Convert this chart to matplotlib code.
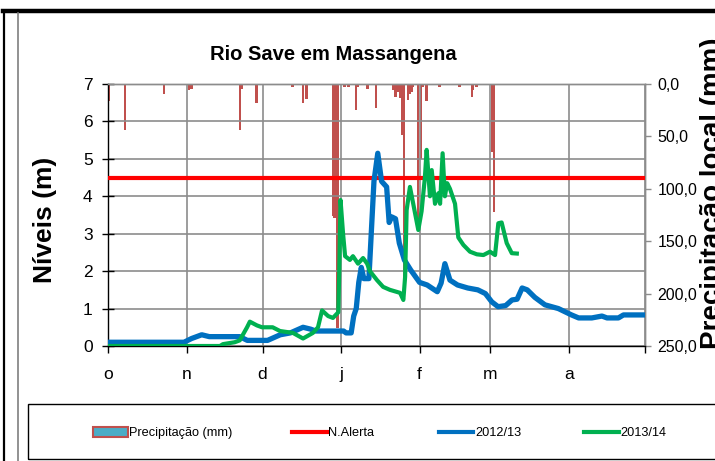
import matplotlib
matplotlib.use("Agg")
import matplotlib.pyplot as plt
from matplotlib.patches import Patch, Rectangle
from matplotlib.lines import Line2D
from matplotlib.ticker import FuncFormatter

# ---------------- data ----------------
month_starts = [0, 31, 61, 92, 123, 151, 182, 212]
month_labels = ["o", "n", "d", "j", "f", "m", "a", ""]

alert_level = 4.5

blue_days = [0, 30, 33, 37, 40, 52, 55, 63, 68, 72, 77, 80, 82, 93, 94, 96, 97, 98, 99, 100,
             101, 103, 104, 105, 106.5, 108, 110, 111, 112, 113.5, 115, 117, 119.5, 123, 126,
             130, 131.5, 133, 135, 138, 142, 146, 149, 151.5, 154, 157, 159.5, 161.5, 163.5,
             165.5, 168.5, 172.5, 177.8, 183, 185.8, 191, 195, 197, 201.5, 203.5, 212]
blue_vals = [0.1, 0.1, 0.2, 0.3, 0.25, 0.25, 0.15, 0.15, 0.3, 0.35, 0.5, 0.45, 0.4, 0.4, 0.35,
             0.35, 0.8, 1.0, 1.7, 2.1, 1.8, 1.8, 3.1, 4.4, 5.15, 4.4, 4.25, 3.3, 3.45, 3.4, 2.75,
             2.3, 2.03, 1.7, 1.63, 1.45, 1.68, 2.2, 1.76, 1.63, 1.55, 1.5, 1.4, 1.18, 1.05, 1.08,
             1.23, 1.25, 1.55, 1.5, 1.3, 1.1, 1.0, 0.83, 0.75, 0.75, 0.8, 0.75, 0.75, 0.83, 0.83]

green_days = [0, 44.2, 45.4, 50, 52, 54.9, 56, 58.8, 60.8, 65, 67.9, 73, 77, 80.9, 82.9, 84.5,
              86.9, 88.8, 90.9, 91.3, 91.8, 92.8, 93.6, 95.5, 96.7, 98.7, 100.7, 102.3, 103.4,
              106.2, 108.6, 111.3, 115.3, 116.6, 117.3, 117.9, 119.2, 120.5, 122.5, 123.8,
              125.1, 125.8, 127.1, 127.8, 129.1, 130.4, 131.1, 132.1, 133, 133.9, 135, 137,
              138.3, 140.3, 142.9, 145.6, 148.2, 150.8, 152.8, 154.1, 155.4, 157.4, 159.4, 161.4]
green_vals = [0, 0, 0.05, 0.1, 0.15, 0.5, 0.65, 0.55, 0.5, 0.5, 0.4, 0.35, 0.2, 0.35, 0.5, 0.95,
              0.8, 0.75, 0.9, 2.0, 3.9, 3.0, 2.4, 2.3, 2.4, 2.2, 2.35, 2.2, 2.0, 1.76, 1.58, 1.5,
              1.42, 1.23, 1.85, 3.63, 4.25, 3.8, 3.1, 3.6, 4.5, 5.24, 4.0, 4.7, 3.8, 4.08, 3.8,
              5.15, 4.0, 4.35, 4.2, 3.8, 2.9, 2.7, 2.52, 2.45, 2.43, 2.52, 2.43, 3.28, 3.3, 2.75,
              2.48, 2.47]

rain_days = [0.3, 6.8, 22, 32, 33, 52, 53, 58.7, 72.9, 77, 78.4, 88.8, 89.4, 90.0, 90.6, 93.3,
             94.9, 97.9, 98.8, 102.5, 105.8, 112.5, 113.5, 114.5, 115.5, 115.9, 116.2, 116.5,
             116.8, 118.5, 119.2, 119.8, 120.5, 122.5, 123.6, 124.3, 125.8, 130.8, 138.7, 143.6,
             144.2, 145.5, 151.7, 152.5]
rain_mm = [16, 44, 10, 6, 4.5, 44, 5, 18, 3, 18, 14, 126, 128, 112, 233, 3, 3, 25, 3, 5, 23, 6,
           12, 8, 13, 9, 49, 28, 190, 15, 10, 8, 3, 140, 72, 3, 16, 3, 3, 12, 6, 3, 65, 122]

# ---------------- style ----------------
FONT = ["Liberation Sans", "DejaVu Sans"]
C_RAIN = "#C0504D"
C_BLUE = "#0070C0"
C_GREEN = "#00B050"
C_RED = "#FF0000"
GRID = "#8C8C8C"

W, H = 715, 461
fig = plt.figure(figsize=(W / 100, H / 100), dpi=100)


def fx(px):
    return px / W


def fy(py):
    return 1 - py / H


# frame decorations
fig.add_artist(Line2D([fx(3), fx(716)], [fy(11.5), fy(11.5)], color="black", lw=3.2))
fig.add_artist(Line2D([fx(4.3), fx(4.3)], [fy(11), fy(462)], color="black", lw=1.6))
fig.add_artist(Line2D([fx(18.3), fx(18.3)], [fy(13), fy(462)], color="#7F7F7F", lw=1.2))

ax = fig.add_axes([fx(108), fy(346), fx(645) - fx(108), fy(84) - fy(346)])
ax2 = ax.twinx()
ax.set_zorder(ax2.get_zorder() + 1)
ax.patch.set_visible(False)

# precipitation bars (hanging from top)
ax2.bar(rain_days, rain_mm, width=0.95, color=C_RAIN, linewidth=0, align="center")
ax2.set_ylim(250, 0)
ax2.set_yticks([0, 50, 100, 150, 200, 250])
ax2.yaxis.set_major_formatter(FuncFormatter(lambda v, p: f"{v:.1f}".replace(".", ",")))

# levels
ax.plot([month_starts[0], month_starts[-1]], [alert_level, alert_level], color=C_RED, lw=3.0,
        solid_capstyle="butt", zorder=3)
ax.plot(blue_days, blue_vals, color=C_BLUE, lw=3.8, solid_joinstyle="round", zorder=4)
ax.plot(green_days, green_vals, color=C_GREEN, lw=3.0, solid_joinstyle="round", zorder=5)

ax.set_xlim(month_starts[0], month_starts[-1])
ax.set_ylim(0, 7)
ax.set_yticks(range(0, 8))
ax.set_xticks(month_starts)
ax.set_xticklabels(month_labels)
ax.grid(True, color=GRID, lw=1.2, zorder=0)
ax.set_axisbelow(True)

for a in (ax, ax2):
    for s in a.spines.values():
        s.set_linewidth(1.0)
ax.spines["left"].set_color("black")
ax.spines["bottom"].set_color("black")
ax.spines["top"].set_color(GRID)
ax.spines["right"].set_color(GRID)
ax2.spines["left"].set_visible(False)
ax2.spines["bottom"].set_visible(False)
ax2.spines["top"].set_color(GRID)
ax2.spines["right"].set_color(GRID)

ax.tick_params(axis="y", direction="inout", length=8, width=1, colors="black", pad=7,
               labelsize=12.5)
ax.tick_params(axis="x", direction="out", length=5, width=1, colors="black", pad=10,
               labelsize=12.5)
ax2.tick_params(axis="y", direction="out", length=4, width=1, colors=GRID, labelcolor="black",
                pad=5, labelsize=11.5)
for lab in ax.get_xticklabels() + ax.get_yticklabels() + ax2.get_yticklabels():
    lab.set_family(FONT)

# texts
fig.text(fx(333), fy(55), "Rio Save em Massangena", ha="center", va="center",
         fontsize=14.5, fontweight="bold", family=FONT)
fig.text(fx(45), fy(220), "Níveis (m)", ha="center", va="center", rotation=90,
         fontsize=19, fontweight="bold", family=FONT)
fig.text(fx(700), fy(193), "Precipitação local (mm)", ha="left", va="center", rotation=90,
         fontsize=20, fontweight="bold", family=FONT)

# legend
fig.add_artist(Rectangle((fx(28), fy(459)), fx(720) - fx(28), fy(404) - fy(459),
                         transform=fig.transFigure, fill=False, edgecolor="black", lw=1.0))
handles = [
    Patch(facecolor="#4BACC6", edgecolor=C_RAIN, linewidth=1.5),
    Line2D([], [], color=C_RED, lw=3),
    Line2D([], [], color=C_BLUE, lw=3),
    Line2D([], [], color=C_GREEN, lw=3),
]
labels = ["Precipitação (mm)", "N.Alerta", "2012/13", "2013/14"]
starts = [93, 292, 439, 584]
for h, lab, x0 in zip(handles, labels, starts):
    fig.legend([h], [lab], loc="center left", bbox_to_anchor=(fx(x0), fy(433)),
               frameon=False, prop={"family": FONT, "size": 9.2},
               handlelength=2.7, handleheight=0.9, handletextpad=0.15,
               borderpad=0, borderaxespad=0)

fig.savefig("out.png", dpi=100)
